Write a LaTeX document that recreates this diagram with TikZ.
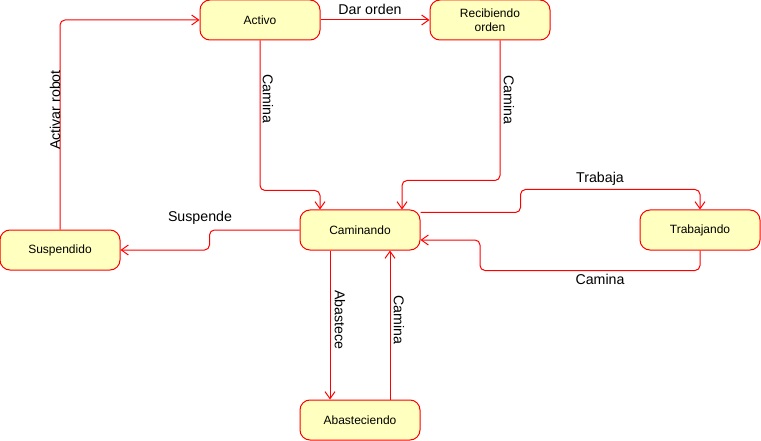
\documentclass[tikz,border=0pt]{standalone}
\usepackage{fontspec}
\setmainfont{Liberation Sans}
\usepackage{tikz}
\usetikzlibrary{shapes,arrows.meta,positioning}
\definecolor{statefill}{HTML}{FFFFC0}
\definecolor{statered}{HTML}{FF0000}
\tikzstyle{line} = [draw=statered, -{Straight Barb[length=7pt,width=10pt]}, line width=1pt, rounded corners=5pt]

\begin{document}
\begin{tikzpicture}[x=1pt,y=-1pt]
  \tikzset{
    state/.style={
      rectangle,
      draw=statered,
      fill=statefill,
      line width=1pt,
      rounded corners=10pt,
      minimum width=120pt,
      minimum height=40pt,
      align=center,
      inner sep=0pt,
      font=\fontsize{12}{14}\selectfont
    },
    edgelabel/.style={
      inner sep=0pt,
      font=\fontsize{14.2}{16}\selectfont
    }
  }
  \useasboundingbox (0,0) rectangle (761,441);

  % estados
  \node[state] (activo) at (260,20) {Activo};
  \node[state] (recibiendo) at (490,20) {Recibiendo\\orden};
  \node[state] (caminando) at (360,230) {Caminando};
  \node[state] (suspendido) at (60,250) {Suspendido};
  \node[state] (trabajando) at (700,230) {Trabajando};
  \node[state] (abasteciendo) at (360,420) {Abasteciendo};

  % transiciones
  \draw[line] (activo.east) -- (recibiendo.west);
  \draw[line] (activo.south) -- ++(0,150) -| ([xshift=-40pt]caminando.north);
  \draw[line] ([xshift=10pt]recibiendo.south) -- ++(0,140) -| ([xshift=42pt]caminando.north);
  \draw[line] (caminando.west) -- ++(-90,0) |- (suspendido.east);
  \draw[line] (suspendido.north) |- (activo.west);
  \draw[line] ([yshift=-3pt]caminando.north east) -- ++(100,0) -- ++(0,-23) -| (trabajando.north);
  \draw[line] (trabajando.south) -- ++(0,20) -- ++(-220,0) |- ([yshift=-10pt]caminando.east);
  \draw[line] ([xshift=-30pt]caminando.south) -- ([xshift=-30pt]abasteciendo.north);
  \draw[line] ([xshift=30pt]abasteciendo.north) -- ([xshift=30pt]caminando.south);

  % etiquetas
  \node[edgelabel] (lblorden) at (370,9) {Dar orden};
  \node[edgelabel, rotate=-90] (lblcamina1) at (268,99) {Camina};
  \node[edgelabel, rotate=-90] (lblcamina2) at (509,100) {Camina};
  \node[edgelabel, rotate=90] (lblactivar) at (55,110) {Activar robot};
  \node[edgelabel] (lblsuspende) at (200,218) {Suspende};
  \node[edgelabel] (lbltrabaja) at (600,179) {Trabaja};
  \node[edgelabel] (lblcamina3) at (600,279) {Camina};
  \node[edgelabel, rotate=-90] (lblabastece) at (340,320) {Abastece};
  \node[edgelabel, rotate=-90] (lblcamina4) at (399,320) {Camina};
\end{tikzpicture}
\end{document}
